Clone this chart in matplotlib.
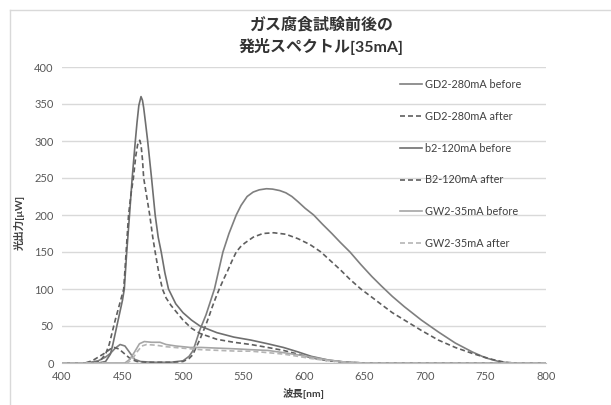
import numpy as np
import matplotlib.pyplot as plt
from matplotlib.lines import Line2D

plt.rcParams['font.family'] = ['Lato', 'Noto Sans CJK JP', 'DejaVu Sans']

# GD2-280mA before / after
gd2_b_x = [400, 420, 430, 436, 440, 444, 448, 452, 456, 460, 465, 475, 490, 500, 505, 508, 510, 512, 514, 516.5,
           519, 522, 526, 529.5, 533, 538, 544, 548, 553, 558, 563, 569, 574, 580, 585, 590, 595, 601, 608, 615,
           623, 630, 638, 647, 656, 664, 673, 683, 697, 711, 725, 739, 750, 761, 770, 800]
gd2_b_y = [0, 0, 3, 8, 13, 20, 25, 23, 14, 5, 2, 1, 1, 3, 9, 16, 25, 35, 45, 55,
           65, 80, 100, 125, 150, 175, 200, 213, 225, 231, 234, 235.5, 235, 233, 230, 225, 218, 209, 200, 188,
           175, 163, 150, 133, 117, 104, 90, 76, 58, 42, 27, 15, 7, 2, 0, 0]
gd2_a_x = [400, 419, 425, 430, 435, 440, 443, 447, 452, 457, 462, 470, 490, 500, 505, 508, 510, 512, 514, 516.5,
           519, 521.5, 524, 527, 530, 533.5, 537, 540.5, 544, 547.5, 551, 558, 566, 575, 585, 595, 605, 614,
           622, 630, 638, 647, 656, 664, 673, 683, 697, 711, 725, 739, 755, 766, 775, 800]
gd2_a_y = [0, 0, 3, 8, 13, 19, 21, 19, 12, 5, 2, 1, 1, 2, 6, 11, 18, 25, 32, 42,
           52, 63, 75, 88, 100, 113, 125, 138, 150, 157, 162, 170, 175, 176, 174, 168, 160, 150,
           138, 126, 113, 100, 89, 79, 68, 58, 44, 31, 21, 13, 5, 1, 0, 0]

# b2-120mA before / B2-120mA after
b2_b_x = [400, 430, 436, 440, 442, 444, 446, 448, 450, 451.5, 453.5, 455.8, 458, 460.6, 462, 463.5, 465.3, 466.5,
          467.5, 469, 470.8, 474, 477, 479.5, 482, 485, 488, 494, 500, 507, 514, 528, 542, 556, 570, 583, 595,
          606, 620, 635, 650, 800]
b2_b_y = [0, 0, 2, 12, 25, 40, 55, 70, 85, 100, 150, 200, 250, 300, 325, 348, 360, 355,
          345, 325, 300, 250, 200, 170, 150, 122, 100, 80, 68, 58, 50, 41, 35, 31, 26, 21, 15,
          9, 4, 1, 0, 0]
b2_a_x = [400, 425, 431, 436, 439, 442, 444, 446, 448.5, 451, 453, 455, 457, 459, 461, 462.5, 464.2, 465.3,
          466.5, 467.5, 470, 472.5, 475, 477, 480, 483, 486, 490, 500, 507, 514, 528, 542, 556, 570, 583, 595,
          606, 620, 635, 650, 800]
b2_a_y = [0, 0, 2, 12, 25, 45, 58, 70, 85, 100, 150, 200, 228, 250, 280, 295, 301, 295,
          275, 250, 225, 200, 170, 150, 122, 100, 88, 78, 58, 47, 40, 32, 28, 25, 21, 17, 12,
          7, 3, 1, 0, 0]

# GW2-35mA before / after
gw2_b_x = [400, 452, 456, 460, 464, 468, 474, 481, 486, 494, 506, 515, 530, 545, 556, 570, 583, 595, 606,
           620, 635, 650, 800]
gw2_b_y = [0, 0, 5, 15, 26, 29, 28, 28, 25, 23, 21, 21, 20, 19, 18, 17, 14, 11, 8,
           4, 1, 0, 0]
gw2_a_x = [400, 454, 458, 462, 466, 470, 478, 486, 500, 515, 530, 545, 556, 570, 583, 595, 606,
           620, 635, 650, 800]
gw2_a_y = [0, 0, 5, 15, 23, 25, 24, 22, 20, 18, 17, 16, 16, 14, 12, 9, 6,
           3, 1, 0, 0]

labels = ['GD2-280mA before', 'GD2-280mA after', 'b2-120mA before',
          'B2-120mA after', 'GW2-35mA before', 'GW2-35mA after']

fig = plt.figure(figsize=(6.11, 4.05), dpi=100)
ax = fig.add_axes([62/611, 1-363/405, (546-62)/611, (363-67)/405])

dash = (0, (3, 1.8))
ax.plot(gd2_b_x, gd2_b_y, color='#7f7f7f', lw=1.2, label=labels[0])
ax.plot(gd2_a_x, gd2_a_y, color='#5f5f5f', lw=1.2, linestyle=dash, label=labels[1])
ax.plot(b2_b_x, b2_b_y, color='#6f6f6f', lw=1.2, label=labels[2])
ax.plot(b2_a_x, b2_a_y, color='#5f5f5f', lw=1.2, linestyle=dash, label=labels[3])
ax.plot(gw2_b_x, gw2_b_y, color='#a6a6a6', lw=1.2, label=labels[4])
ax.plot(gw2_a_x, gw2_a_y, color='#b5b5b5', lw=1.2, linestyle=dash, label=labels[5])

ax.set_xlim(400, 800)
ax.set_ylim(0, 400)
ax.set_xticks(np.arange(400, 801, 50))
ax.set_yticks(np.arange(0, 401, 50))
ax.grid(axis='y', color='#d9d9d9', lw=1)
ax.set_axisbelow(True)
for s in ['top', 'right', 'left']:
    ax.spines[s].set_visible(False)
ax.spines['bottom'].set_color('#bfbfbf')
ax.tick_params(length=0, labelsize=8, colors='#595959', pad=6)

ax.set_xlabel('波長[nm]', fontsize=7.5, fontweight='bold', color='#404040', labelpad=4)
ax.set_ylabel('光出力[μW]', fontsize=7.5, fontweight='bold', color='#404040')
ax.yaxis.set_label_coords(-0.077, 0.476)

fig.text(0.525, 1-36/405, 'ガス腐食試験前後の\n発光スペクトル[35mA]', ha='center', va='center',
         fontsize=11.5, fontweight='bold', color='#333333', linespacing=1.45)

# chart area border (left and top edges)
fig.add_artist(Line2D([10/611, 10/611], [0, 1-10/405], color='#d9d9d9', lw=1))
fig.add_artist(Line2D([10/611, 1], [1-10/405, 1-10/405], color='#d9d9d9', lw=1))

fig.legend(loc='upper left', bbox_to_anchor=(400/611, 1-79/405), frameon=False,
           fontsize=7.8, handlelength=2.05, handletextpad=0.25, labelspacing=1.92,
           borderpad=0, borderaxespad=0, labelcolor='#404040')

fig.savefig('out.png', dpi=100)
